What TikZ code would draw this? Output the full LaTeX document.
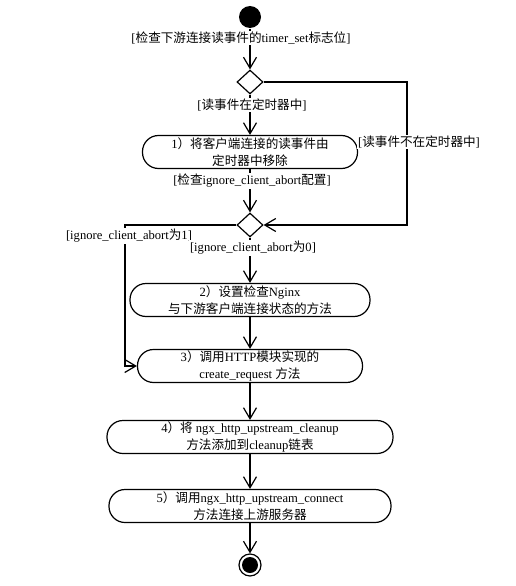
\documentclass[tikz,border=0pt]{standalone}
\usepackage{fontspec}
\setmainfont{Liberation Serif}
\newfontfamily\cjk{Noto Sans CJK SC}
\newcommand\zh[1]{{\cjk #1}}
\usepackage{tikz}
\usetikzlibrary{arrows.meta,shapes.geometric}

\begin{document}
\begin{tikzpicture}[x=1pt, y=-1pt, line width=1.2pt,
    font=\fontsize{12.6}{16.5}\selectfont,
    flow/.style={-{Straight Barb[length=11pt,width=13pt]}},
    actbox/.style={draw, rectangle, rounded corners=16pt, align=center, minimum height=33pt, inner sep=1pt},
    choice/.style={draw, diamond, inner sep=0pt, minimum width=26pt, minimum height=24pt},
    guard/.style={fill=white, inner sep=1pt}]
                \useasboundingbox (0,0) rectangle (515,586);
                % Draw start, decisions and end
                \node[circle, fill=black, minimum size=22pt, inner sep=0pt] (start) at (250,17) {};
                \node[choice] (d1) at (250,82) {};
                \node[choice] (d2) at (250,225) {};
                \node[circle, draw, minimum size=22pt, inner sep=0pt,
                      path picture={\fill (path picture bounding box.center) circle (8pt);}] (end) at (250,565) {};

                % Draw the action steps
                \node[actbox, minimum width=215pt] (b1) at (250,152) {1\zh{）将客户端连接的读事件由}\\\zh{定时器中移除}};
                \node[actbox, minimum width=240pt] (b2) at (250,300) {2\zh{）设置检查}Nginx\\\zh{与下游客户端连接状态的方法}};
                \node[actbox, minimum width=225pt] (b3) at (250,366) {3\zh{）调用}HTTP\zh{模块实现的}\\create\_request \zh{方法}};
                \node[actbox, minimum width=286pt] (b4) at (250,437) {4\zh{）将} ngx\_http\_upstream\_cleanup\\\zh{方法添加到}cleanup\zh{链表}};
                \node[actbox, minimum width=282pt] (b5) at (250,506) {5\zh{）调用}ngx\_http\_upstream\_connect\\\zh{方法连接上游服务器}};

                % Bend points of the side branches
                \coordinate (rbend) at (407,82);
                \coordinate (lbend) at (125,225);

                % Draw the flow
                \draw[flow] (start) -- (d1);
                \draw[flow] (d1) -- (b1);
                \draw[flow] (d1.east) -- (rbend) |- (d2.east);
                \draw[flow] (b1) -- (d2);
                \draw[flow] (d2) -- (b2);
                \draw[flow] (d2.west) -- (lbend) |- (b3.west);
                \draw[flow] (b2) -- (b3);
                \draw[flow] (b3) -- (b4);
                \draw[flow] (b4) -- (b5);
                \draw[flow] (b5) -- (end);

                % Guard labels on top of the flow
                \node[guard] (g0) at (241,38) {[\zh{检查下游连接读事件的}timer\_set\zh{标志位}]};
                \node[guard] (g1) at (252,105) {[\zh{读事件在定时器中}]};
                \node[guard] (g2) at (419,142) {[\zh{读事件不在定时器中}]};
                \node[guard] (g3) at (252,181) {[\zh{检查}ignore\_client\_abort\zh{配置}]};
                \node[guard] (g4) at (129,236) {[ignore\_client\_abort\zh{为}1]};
                \node[guard] (g5) at (253,248) {[ignore\_client\_abort\zh{为}0]};
            \end{tikzpicture}
\end{document}
